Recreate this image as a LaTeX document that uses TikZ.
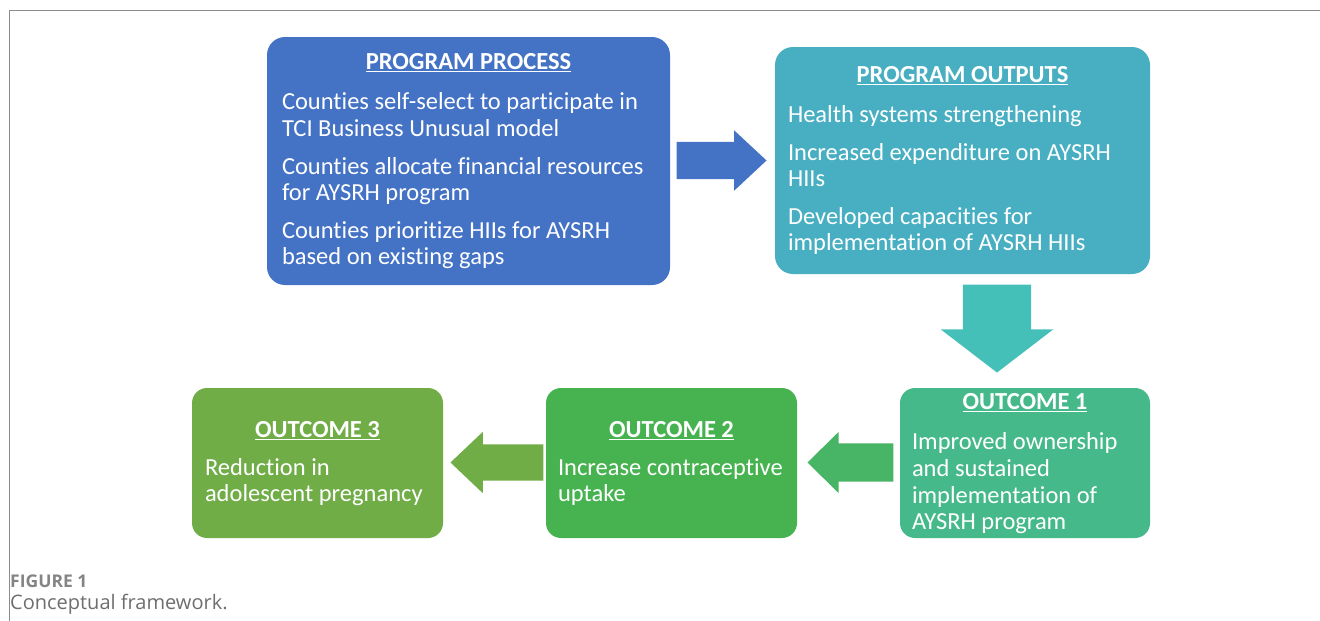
\documentclass[tikz,border=0pt]{standalone}
\usepackage{fontspec}
\setmainfont{Carlito}[Ligatures=NoCommon]
\newfontfamily\capfont{Open Sans}
\usepackage{tikz}
\usetikzlibrary{arrows.meta,positioning,shapes,shapes.arrows,calc}

\definecolor{procblue}{HTML}{4472C4}
\definecolor{outteal}{HTML}{47AFC1}
\definecolor{downteal}{HTML}{45C0B8}
\definecolor{oneg}{HTML}{46B98B}
\definecolor{onetwo}{HTML}{48B466}
\definecolor{twog}{HTML}{47B350}
\definecolor{threeg}{HTML}{70AD47}
\definecolor{capgray}{HTML}{6E6E6E}

\begin{document}
\begin{tikzpicture}[
  x=1pt,y=-1pt,
  box/.style={rounded corners=18pt,inner sep=0pt},
  head/.style={text=white,font=\fontsize{24.5}{26.7}\selectfont\bfseries,inner sep=0pt,anchor=base},
  % anchor sits on the baseline of the last line
  body/.style={text=white,font=\fontsize{24.5}{26.7}\selectfont,align=left,inner sep=0pt,anchor=base west},
  fat/.style={single arrow,inner xsep=0pt,single arrow head indent=0pt,anchor=tip}
]
\useasboundingbox (0,0) rectangle (1320,621);
\draw[gray!90,line width=1pt] (1320,10.5) -- (9.5,10.5) -- (9.5,621);

% boxes
\node[box,fill=procblue,minimum width=403pt,minimum height=248pt] (proc) at (468.5,161) {};
\node[box,fill=outteal,minimum width=375pt,minimum height=227pt] (outp) at (962.5,160.5) {};
\node[box,fill=oneg,minimum width=250pt,minimum height=150pt,rounded corners=15pt] (oc1) at (1025,463) {};
\node[box,fill=twog,minimum width=251pt,minimum height=150pt,rounded corners=15pt] (oc2) at (671.5,463) {};
\node[box,fill=threeg,minimum width=251pt,minimum height=150pt,rounded corners=15pt] (oc3) at (317.5,463) {};

% texts
\node[head] (procT) at ($(proc.north)+(0,33)$) {\underline{PROGRAM PROCESS}};
\node[body] (procB) at ($(proc.north west)+(15,228)$) {Counties self-select to participate in\\TCI Business Unusual model\\[10.7pt]
  Counties allocate financial resources\\for AYSRH program\\[10.7pt]
  Counties prioritize HIIs for AYSRH\\based on existing gaps};
\node[head] (outpT) at ($(outp.north)+(0,36)$) {\underline{PROGRAM OUTPUTS}};
\node[body] (outpB) at ($(outp.north west)+(13,204)$) {Health systems strengthening\\[10.7pt]
  Increased expenditure on AYSRH\\HIIs\\[10.7pt]
  Developed capacities for\\implementation of AYSRH HIIs};
\node[head] (oc1T) at ($(oc1.north)+(0,22)$) {\underline{OUTCOME 1}};
\node[body] (oc1B) at ($(oc1.north west)+(12,142)$) {Improved ownership\\and sustained\\implementation of\\AYSRH program};
\node[head] (oc2T) at ($(oc2.north)+(0,50)$) {\underline{OUTCOME 2}};
\node[body] (oc2B) at ($(oc2.north west)+(12,114)$) {Increase contraceptive\\uptake};
\node[head] (oc3T) at ($(oc3.north)+(0,50)$) {\underline{OUTCOME 3}};
\node[body] (oc3B) at ($(oc3.north west)+(13,114)$) {Reduction in\\adolescent pregnancy};

% block arrows, placed by their tips
\node[fat,fill=procblue,inner ysep=18.5pt,minimum height=90pt,single arrow head extend=11.5pt,single arrow tip angle=86] (a1) at ($(outp.west)+(-8,0)$) {};
\node[fat,fill=downteal,rotate=-90,inner ysep=34pt,minimum height=88pt,single arrow head extend=22pt,single arrow tip angle=105] (a2) at ($(oc1.north)+(-28,-15)$) {};
\node[fat,fill=onetwo,rotate=180,inner ysep=19pt,minimum height=86pt,single arrow head extend=11.5pt,single arrow tip angle=89] (a3) at ($(oc2.east)+(10,-0.5)$) {};
\node[fat,fill=threeg,rotate=180,inner ysep=18pt,minimum height=93pt,single arrow head extend=12.5pt,single arrow tip angle=87] (a4) at ($(oc3.east)+(7,-0.5)$) {};

% caption
\node[font=\capfont\bfseries\fontsize{17.5}{19}\selectfont,text=capgray!85,anchor=base west,inner sep=0pt] (figno) at (10,587) {FIGURE 1};
\node[font=\capfont\fontsize{20}{22}\selectfont,text=capgray,anchor=base west,inner sep=0pt] (figcap) at (10,609) {Conceptual framework.};
\end{tikzpicture}
\end{document}
